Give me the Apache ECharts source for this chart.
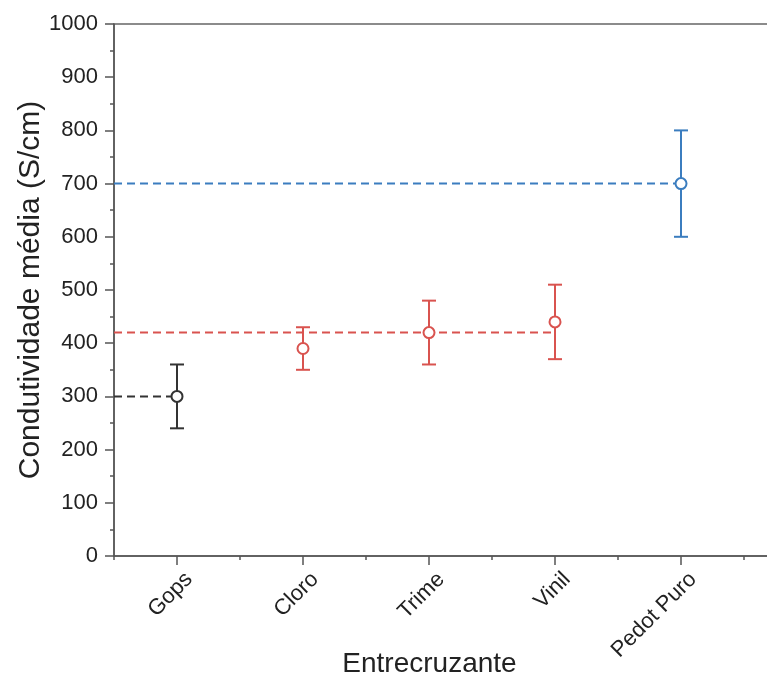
<!DOCTYPE html>
<html><head><meta charset="utf-8">
<script src="https://cdn.jsdelivr.net/npm/echarts@6/dist/echarts.min.js"></script>
<style>html,body{margin:0;padding:0;background:#fff}#c{width:767px;height:675px}</style>
</head><body><div id="c"></div>
<script>
// ---- data ----
const categories = ['Gops', 'Cloro', 'Trime', 'Vinil', 'Pedot Puro'];
const means = [300, 390, 420, 440, 700];
const errLow = [240, 350, 360, 370, 600];
const errHigh = [360, 430, 480, 510, 800];
const pointGroup = [0, 1, 1, 1, 2];
// group average (dashed) lines
const groupMeans = [300, 420, 700];
const groupLastCategory = [1, 4, 5];
const groupColors = ['#333333', '#d9534f', '#3b7dbf'];
const yTicks = [0, 100, 200, 300, 400, 500, 600, 700, 800, 900, 1000];

const FONT = "'Liberation Sans', Arial, sans-serif";
const xMin = 0.5, xMax = 5.73;

const chart = echarts.init(document.getElementById('c'), null, {renderer: 'canvas'});

const errData = categories.map((c, i) => [i + 1, errLow[i], errHigh[i]]);
const series = [];
groupMeans.forEach((m, g) => {
  series.push({
    type: 'line', xAxisIndex: 0, symbol: 'none', silent: true, z: 2,
    data: [[xMin, m], [groupLastCategory[g], m]],
    lineStyle: {color: groupColors[g], width: 2, type: [8, 5]}
  });
});
series.push({
  type: 'custom', xAxisIndex: 0, z: 3,
  data: errData,
  renderItem: function (params, api) {
    const x = api.value(0);
    const lo = api.coord([x, api.value(1)]);
    const hi = api.coord([x, api.value(2)]);
    const col = groupColors[pointGroup[params.dataIndex]];
    const hw = 7;
    const st = {stroke: col, lineWidth: 2};
    return {type: 'group', children: [
      {type: 'line', shape: {x1: lo[0], y1: lo[1], x2: hi[0], y2: hi[1]}, style: st},
      {type: 'line', shape: {x1: lo[0] - hw, y1: lo[1], x2: lo[0] + hw, y2: lo[1]}, style: st},
      {type: 'line', shape: {x1: hi[0] - hw, y1: hi[1], x2: hi[0] + hw, y2: hi[1]}, style: st}
    ]};
  }
});
series.push({
  type: 'scatter', xAxisIndex: 0, z: 5, symbol: 'circle', symbolSize: 11,
  emphasis: {disabled: true},
  data: means.map((v, i) => ({value: [i + 1, v], itemStyle: {color: '#ffffff', opacity: 1, borderColor: groupColors[pointGroup[i]], borderWidth: 2}}))
});

chart.setOption({
  backgroundColor: '#ffffff',
  animation: false,
  grid: {left: 114, top: 24, right: -6, bottom: 119, outerBoundsMode: 'none', containLabel: false,
         show: true, borderColor: '#666', borderWidth: 1.5, backgroundColor: 'transparent'},
  xAxis: [{
    type: 'value', min: xMin, max: xMax, interval: 0.5, position: 'bottom', offset: 0,
    name: 'Entrecruzante', nameLocation: 'middle', nameGap: 94, nameMoveOverlap: false,
    nameTextStyle: {fontFamily: FONT, fontSize: 28, color: '#222', padding: [0, 28, 0, 0]},
    axisLine: {show: true, lineStyle: {color: '#555', width: 1.5}},
    axisTick: {show: false},
    axisLabel: {
      rotate: 45, margin: 8, fontFamily: FONT, fontSize: 22, color: '#222',
      verticalAlign: 'top', padding: [6, 0, 0, 0],
      showMinLabel: true, showMaxLabel: true, hideOverlap: false,
      formatter: function (v) {
        const r = Math.round(v);
        return (Math.abs(v - r) < 1e-6 && r >= 1 && r <= categories.length) ? categories[r - 1] : '';
      }
    },
    splitLine: {show: false}
  }, {
    type: 'value', min: xMin, max: xMax, interval: 1, position: 'bottom', offset: 0,
    axisLine: {show: false},
    axisTick: {show: true, inside: false, length: 4, lineStyle: {color: '#555', width: 1.5}},
    minorTick: {show: true, splitNumber: 2, length: 9, lineStyle: {color: '#555', width: 1.5}},
    axisLabel: {show: false},
    splitLine: {show: false}
  }],
  yAxis: {
    type: 'value', min: yTicks[0], max: yTicks[yTicks.length - 1], interval: yTicks[1] - yTicks[0],
    name: 'Condutividade média (S/cm)', nameLocation: 'middle', nameGap: 68, nameMoveOverlap: false,
    nameTextStyle: {fontFamily: FONT, fontSize: 30, color: '#222'},
    axisLine: {show: true, lineStyle: {color: '#555', width: 1.5}},
    axisTick: {show: true, inside: false, length: 9, lineStyle: {color: '#555', width: 1.5}},
    minorTick: {show: true, splitNumber: 2, length: 4, lineStyle: {color: '#555', width: 1.5}},
    axisLabel: {margin: 16, fontFamily: FONT, fontSize: 22, color: '#222', formatter: function (v) { return String(v); }},
    splitLine: {show: false}
  },
  series: series
});
</script></body></html>
